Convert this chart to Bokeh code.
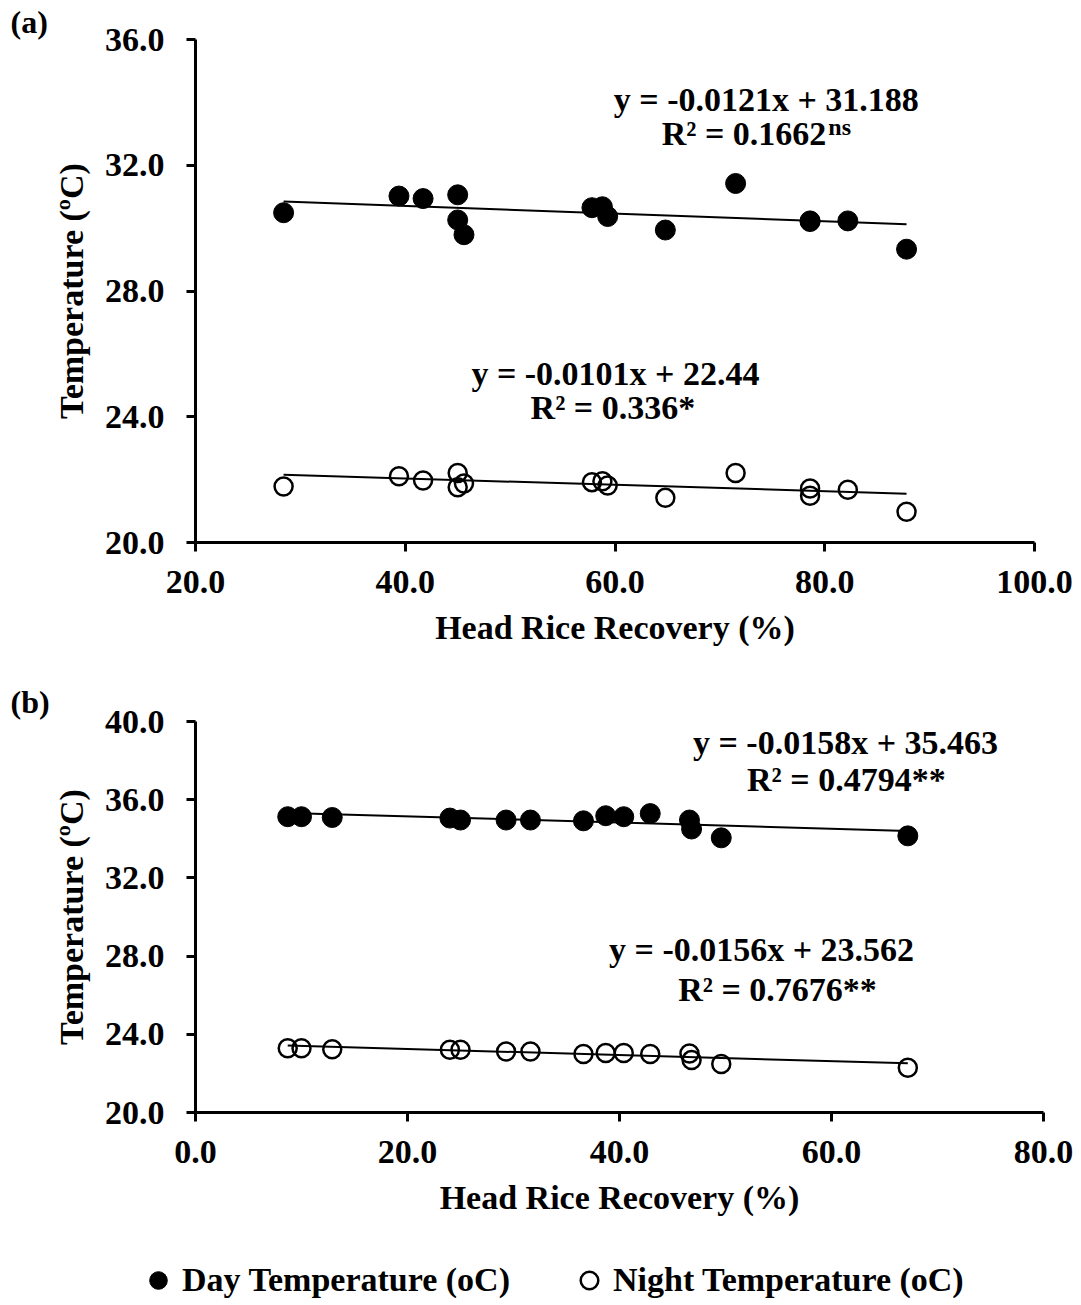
from bokeh.plotting import figure
from bokeh.models import Range1d, FixedTicker, NumeralTickFormatter, Label, Legend, LegendItem, Title
from bokeh.embed import file_html
from bokeh.resources import INLINE
import numpy as np

FONT = "Liberation Serif"

# ---------------- data: panel (a) ----------------
hrr_a = [28.4, 39.4, 41.7, 45.0, 45.0, 45.6, 57.8, 58.8, 59.3, 64.8, 71.5, 78.6, 78.6, 82.2, 87.8]
day_a = [30.49, 31.02, 30.94, 31.06, 30.26, 29.79, 30.65, 30.68, 30.37, 29.94, 31.42, 30.23, 30.21, 30.23, 29.33]
night_a = [21.78, 22.11, 21.97, 22.21, 21.76, 21.88, 21.92, 21.95, 21.81, 21.42, 22.21, 21.72, 21.49, 21.68, 20.98]

# ---------------- data: panel (b) ----------------
hrr_b = [8.7, 10.0, 12.9, 24.0, 25.0, 29.3, 31.6, 36.6, 38.7, 40.4, 42.9, 46.6, 46.8, 49.6, 67.2]
day_b = [35.13, 35.13, 35.09, 35.06, 34.96, 34.96, 34.96, 34.92, 35.18, 35.13, 35.29, 34.96, 34.50, 34.05, 34.15]
night_b = [23.29, 23.29, 23.24, 23.21, 23.21, 23.12, 23.12, 22.99, 23.04, 23.04, 22.99, 23.02, 22.68, 22.48, 22.29]

# regression coefficients (slope, intercept) as printed on the chart
fit_a_day = (-0.0121, 31.188)
fit_a_night = (-0.0101, 22.44)
fit_b_day = (-0.0158, 35.463)
fit_b_night = (-0.0156, 23.562)

xticks_a = [20, 40, 60, 80, 100]
yticks_a = [20, 24, 28, 32, 36]
xticks_b = [0, 20, 40, 60, 80]
yticks_b = [20, 24, 28, 32, 36, 40]

x_title = "Head Rice Recovery (%)"
y_title = "Temperature (ºC)"
legend_labels = ["Day Temperature (oC)", "Night Temperature (oC)"]

FS = "34px"


def make_fig(height, xr, yr, xticks, yticks, top, right, bottom, panel_tag, tag_standoff):
    p = figure(width=1081, height=height, x_range=Range1d(*xr), y_range=Range1d(*yr),
               output_backend="svg", toolbar_location=None,
               min_border_left=195, min_border_right=right,
               min_border_top=top, min_border_bottom=bottom)
    p.outline_line_color = None
    p.grid.visible = False
    p.background_fill_color = "white"
    p.border_fill_color = "white"
    p.xaxis.ticker = FixedTicker(ticks=xticks)
    p.yaxis.ticker = FixedTicker(ticks=yticks)
    p.axis.formatter = NumeralTickFormatter(format="0.0")
    for ax in p.axis:
        ax.axis_line_width = 3
        ax.axis_line_color = "black"
        ax.major_tick_line_width = 3
        ax.major_tick_line_color = "black"
        ax.major_tick_out = 9
        ax.major_tick_in = 0
        ax.minor_tick_out = 0
        ax.minor_tick_in = 0
        ax.major_label_text_font = FONT
        ax.major_label_text_font_size = FS
        ax.major_label_text_font_style = "bold"
        ax.major_label_text_color = "black"
        ax.axis_label_text_font = FONT
        ax.axis_label_text_font_size = FS
        ax.axis_label_text_font_style = "bold"
        ax.axis_label_text_color = "black"
    p.xaxis.axis_label = x_title
    p.yaxis.axis_label = y_title
    p.xaxis.major_label_standoff = 19
    p.yaxis.major_label_standoff = 22
    p.xaxis.axis_label_standoff = 13
    p.yaxis.axis_label_standoff = 12
    p.add_layout(Title(text=panel_tag, align="left", offset=-185, standoff=tag_standoff,
                       text_font=FONT, text_font_size="32px", text_font_style="bold",
                       text_color="black"), "above")
    return p


def add_series(p, x, day, night, fday, fnight):
    xs = np.array([min(x), max(x)])
    p.line(xs, fday[0] * xs + fday[1], line_color="black", line_width=2)
    p.line(xs, fnight[0] * xs + fnight[1], line_color="black", line_width=2)
    rd = p.scatter(x, day, size=20, marker="circle", fill_color="black", line_color="black", line_width=1)
    rn = p.scatter(x, night, size=18, marker="circle", fill_alpha=0, line_color="black", line_width=2.5)
    return rd, rn


def txt(p, x, y, s, size=FS, align="center"):
    p.add_layout(Label(x=x, y=y, text=s, text_font=FONT, text_font_size=size,
                       text_font_style="bold", text_color="black",
                       text_align=align, text_baseline="middle"))


# ---------------- panel (a) ----------------
pa = make_fig(678, (20, 100), (20, 36), xticks_a, yticks_a, top=39, right=47, bottom=136,
              panel_tag="(a)", tag_standoff=0)
add_series(pa, hrr_a, day_a, night_a, fit_a_day, fit_a_night)
txt(pa, 74.43, 34.1, "y = -0.0121x + 31.188")
txt(pa, 80.15, 33.02, "R² = 0.1662", align="right")
txt(pa, 80.34, 33.22, "ns", size="24px", align="left")
txt(pa, 60.04, 25.37, "y = -0.0101x + 22.44")
txt(pa, 59.8, 24.3, "R² = 0.336*")

# ---------------- panel (b) ----------------
pb = make_fig(556, (0, 80), (20, 40), xticks_b, yticks_b, top=43, right=38, bottom=122,
              panel_tag="(b)", tag_standoff=4)
add_series(pb, hrr_b, day_b, night_b, fit_b_day, fit_b_night)
txt(pb, 61.32, 38.93, "y = -0.0158x + 35.463")
txt(pb, 61.4, 37.02, "R² = 0.4794**")
txt(pb, 53.4, 28.32, "y = -0.0156x + 23.562")
txt(pb, 54.9, 26.28, "R² = 0.7676**")

# ---------------- legend strip ----------------
pl = figure(width=1081, height=69, x_range=Range1d(0, 1), y_range=Range1d(0, 1),
            output_backend="svg", toolbar_location=None,
            x_axis_location=None, y_axis_location=None,
            min_border_left=0, min_border_right=0, min_border_top=0, min_border_bottom=0)
pl.outline_line_color = None
pl.grid.visible = False
ld = pl.scatter(hrr_b, day_b, size=20, marker="circle", fill_color="black", line_color="black",
                line_width=1, visible=False)
ln = pl.scatter(hrr_b, night_b, size=18, marker="circle", fill_alpha=0, line_color="black",
                line_width=2.5, visible=False)
legend = Legend(items=[LegendItem(label=legend_labels[0], renderers=[ld]),
                       LegendItem(label=legend_labels[1], renderers=[ln])],
                orientation="horizontal", location=(136, 1),
                glyph_width=44, glyph_height=44, label_standoff=2, spacing=57,
                padding=0, margin=0, border_line_alpha=0, background_fill_alpha=0,
                inactive_fill_alpha=0,
                label_text_font=FONT, label_text_font_size=FS,
                label_text_font_style="bold", label_text_color="black")
pl.add_layout(legend, "center")

open("out.html", "w").write(file_html([pa, pb, pl], INLINE))
